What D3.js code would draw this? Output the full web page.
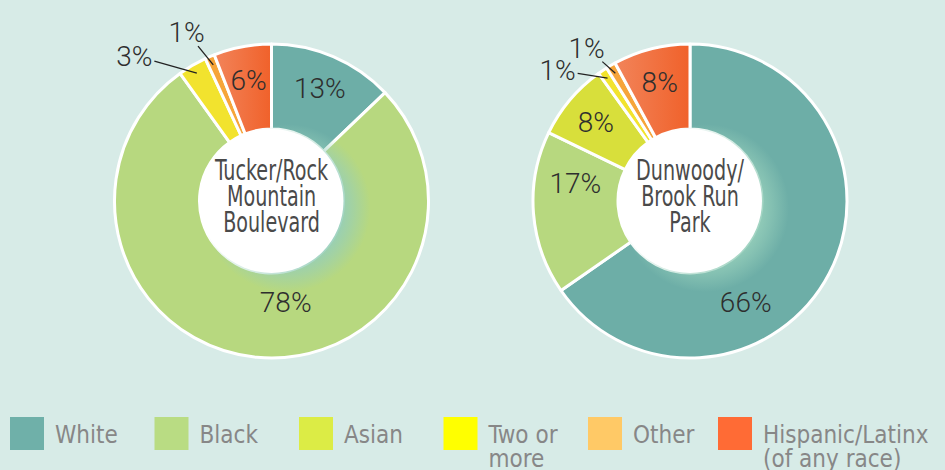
<!DOCTYPE html>
<html lang="en">
<head>
<meta charset="utf-8">
<title>Race and ethnicity by site</title>
<script src="https://cdn.jsdelivr.net/npm/d3@7"></script>
<style>
  body { margin: 0; background: #d7ebe7; }
  svg { display: block; }
</style>
</head>
<body>
<script>
// ---- data ----
var categories = ["White", "Black", "Asian", "Two or more", "Other", "Hispanic/Latinx (of any race)"];
var legendLines = [["White"], ["Black"], ["Asian"], ["Two or", "more"], ["Other"], ["Hispanic/Latinx", "(of any race)"]];
var tuckerValues = [13, 78, 0, 3, 1, 6];
var dunwoodyValues = [66, 17, 8, 1, 1, 8];
var tuckerTitle = ["Tucker/Rock", "Mountain", "Boulevard"];
var dunwoodyTitle = ["Dunwoody/", "Brook Run", "Park"];

// colours (slices are the muted print tones, legend the bright ones)
var sliceColors = ["#6daea7", "#b7d87f", "#d8df3b", "#f2e32e", "#f6a53a", "url(#hispGrad)"];
var legendColors = ["#6fb0a9", "#b9dc83", "#dcec45", "#ffff00", "#ffc966", "#ff6b35"];

// ---- layout ----
var w = 945, h = 470;
var outerR = 157, innerR = 72;
var labelR = 123;
var pctFont = "Roboto, 'Noto Sans', sans-serif";
var narrowFont = "'DejaVu Sans Condensed', 'DejaVu Sans', sans-serif";

// label placement tweaks: [angle in degrees, radius]
var labelTweaks = [
  {1: [172, 102]},
  {0: [151, 115], 1: [279, 116]}
];
// callouts for thin slices: [angle offset from slice middle, radius of text]
var calloutTweaks = [
  {3: [-13, 200], 4: [-3.5, 189]},
  {3: [-11.5, 186], 4: [-3.7, 185]}
];

var charts = [
  {values: tuckerValues, title: tuckerTitle},
  {values: dunwoodyValues, title: dunwoodyTitle}
];

var xCenter = d3.scalePoint().domain([0, 1]).range([271.5, 690]);
var cy = 201;

var color = d3.scaleOrdinal().domain(categories).range(sliceColors);
var legendColor = d3.scaleOrdinal().domain(categories).range(legendColors);

var svg = d3.select("body").append("svg")
  .attr("width", w)
  .attr("height", h);

svg.append("rect").attr("width", w).attr("height", h).attr("fill", "#d7ebe7");

var defs = svg.append("defs");
var hg = defs.append("linearGradient").attr("id", "hispGrad")
  .attr("x1", "0%").attr("x2", "100%").attr("y1", "0%").attr("y2", "0%");
hg.append("stop").attr("offset", "0%").attr("stop-color", "#f2845a");
hg.append("stop").attr("offset", "100%").attr("stop-color", "#f0612a");

var halo = defs.append("radialGradient").attr("id", "halo");
halo.append("stop").attr("offset", "0.62").attr("stop-color", "#95ceba").attr("stop-opacity", 1);
halo.append("stop").attr("offset", "0.8").attr("stop-color", "#95ceba").attr("stop-opacity", 0.55);
halo.append("stop").attr("offset", "1").attr("stop-color", "#95ceba").attr("stop-opacity", 0);

var pie = d3.pie().sort(null).value(function (d) { return d; });
var arc = d3.arc().innerRadius(innerR).outerRadius(outerR);

function polar(deg, r) {
  var a = deg * Math.PI / 180;
  return [r * Math.sin(a), -r * Math.cos(a)];
}

charts.forEach(function (chart, ci) {
  var g = svg.append("g")
    .attr("transform", "translate(" + xCenter(ci) + "," + cy + ")");

  var arcs = pie(chart.values).map(function (d, i) {
    d.cat = categories[i];
    d.idx = i;
    return d;
  });

  g.selectAll("path.slice")
    .data(arcs.filter(function (d) { return d.value > 0; }))
    .enter()
    .append("path")
    .attr("class", "slice")
    .attr("d", arc)
    .attr("fill", function (d) { return color(d.cat); })
    .attr("stroke", "#fff")
    .attr("stroke-width", 3)
    .attr("stroke-linejoin", "round");

  // soft glow around the hole, pushed to the lower right
  g.append("circle")
    .attr("cx", 15).attr("cy", 7)
    .attr("r", 84)
    .attr("fill", "url(#halo)");

  g.append("circle")
    .attr("r", innerR)
    .attr("fill", "#fff");

  // centre title (squeezed to mimic a condensed face)
  g.append("text")
    .attr("transform", "scale(0.76,1)")
    .attr("text-anchor", "middle")
    .attr("font-family", narrowFont)
    .attr("font-size", "28px")
    .attr("fill", "#4a4a4a")
    .selectAll("tspan")
    .data(chart.title)
    .enter()
    .append("tspan")
    .attr("x", 0)
    .attr("y", function (d, i) { return -21 + i * 26; })
    .text(function (d) { return d; });

  // percentage labels
  var shown = arcs.filter(function (d) { return d.value > 0; });
  shown.forEach(function (d) {
    var mid = (d.startAngle + d.endAngle) / 2 * 180 / Math.PI;
    var txt = d.value + "%";
    var call = calloutTweaks[ci][d.idx];
    var pos;
    if (call) {
      pos = polar(mid + call[0], call[1]);
      var end = polar(mid, 148);
      var dx = end[0] - pos[0], dy = end[1] - pos[1];
      var t = Math.min(20 / Math.abs(dx || 1e-6), 14 / Math.abs(dy || 1e-6));
      g.append("line")
        .attr("x1", pos[0] + dx * t).attr("y1", pos[1] + dy * t)
        .attr("x2", end[0]).attr("y2", end[1])
        .attr("stroke", "#222")
        .attr("stroke-width", 1.3);
    } else {
      var tw = labelTweaks[ci][d.idx];
      pos = tw ? polar(tw[0], tw[1]) : polar(mid, labelR);
    }
    g.append("text")
      .attr("x", pos[0])
      .attr("y", pos[1])
      .attr("dy", "0.36em")
      .attr("text-anchor", "middle")
      .attr("font-family", pctFont)
      .attr("font-weight", 300)
      .attr("font-size", "28px")
      .attr("fill", "#2e2e2e")
      .text(txt);
  });
});

// ---- legend ----
// first five items evenly spaced, the long last one tucked in closer
var legendX = d3.scalePoint().domain(categories.slice(0, 5)).range([10, 588]);
var lastGap = 130;
var legend = svg.append("g");

var items = legend.selectAll("g.item")
  .data(categories)
  .enter()
  .append("g")
  .attr("class", "item")
  .attr("transform", function (d, i) {
    var x = i < 5 ? legendX(d) : legendX(categories[4]) + lastGap;
    return "translate(" + x + ",0)";
  });

items.append("rect")
  .attr("y", 417)
  .attr("width", 34)
  .attr("height", 33)
  .attr("fill", function (d) { return legendColor(d); });

items.append("text")
  .attr("font-family", narrowFont)
  .attr("font-size", "24px")
  .attr("fill", "#878787")
  .selectAll("tspan")
  .data(function (d, i) { return legendLines[i]; })
  .enter()
  .append("tspan")
  .attr("x", 45)
  .attr("y", function (d, i) { return 443 + i * 24; })
  .text(function (d) { return d; });
</script>
</body>
</html>
